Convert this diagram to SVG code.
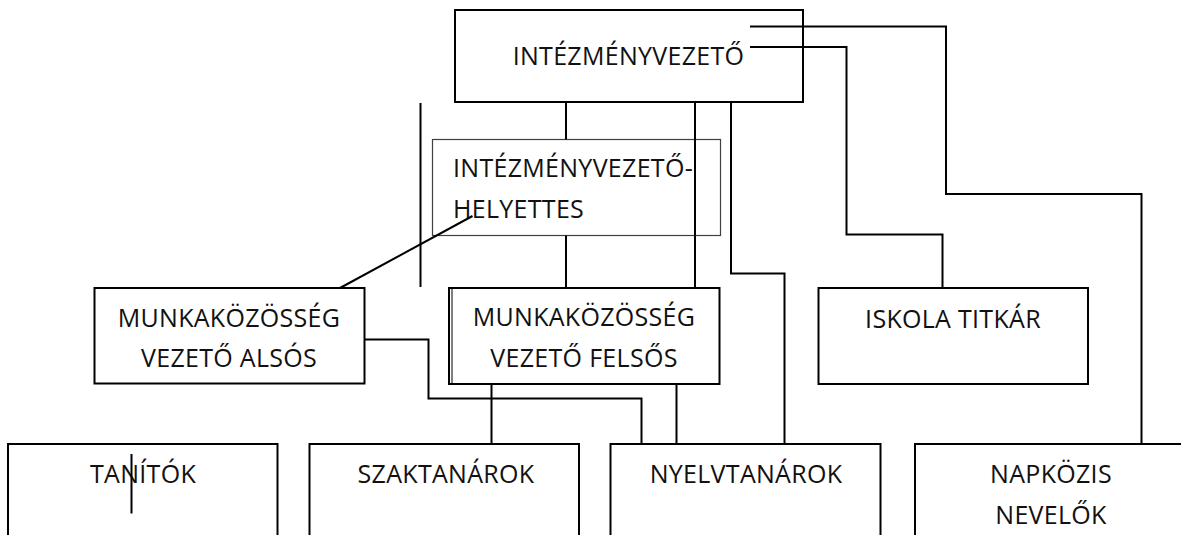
<svg xmlns="http://www.w3.org/2000/svg" width="1181" height="535" viewBox="0 0 1181 535">
  <style>
    .box { fill: #ffffff; stroke: #000000; stroke-width: 2; }
    .thin { fill: #ffffff; stroke: #404040; stroke-width: 1.2; }
    .wire { fill: none; stroke: #000000; stroke-width: 2; stroke-linejoin: miter; }
    .lbl { font-family: "Open Sans", "Noto Sans", sans-serif; font-size: 25px; letter-spacing: 0.3px; fill: #111111; }
    .mid { text-anchor: middle; }
  </style>
  <rect width="1181" height="535" fill="#ffffff"/>

  <!-- nodes -->
  <g id="intezmenyvezeto">
    <rect class="box" x="455" y="10" width="348" height="92"/>
    <text class="lbl mid" x="628.5" y="65">INTÉZMÉNYVEZETŐ</text>
  </g>
  <g id="helyettes">
    <rect class="thin" x="432.5" y="139.5" width="288" height="96"/>
    <text class="lbl" x="453" y="177">INTÉZMÉNYVEZETŐ-</text>
    <text class="lbl" x="453" y="218">HELYETTES</text>
  </g>
  <g id="mk-also">
    <rect class="box" x="94.5" y="288" width="270" height="95.5"/>
    <text class="lbl mid" x="229" y="326.5">MUNKAKÖZÖSSÉG</text>
    <text class="lbl mid" x="229" y="367">VEZETŐ ALSÓS</text>
  </g>
  <g id="mk-felso">
    <rect class="box" x="449" y="288" width="270.5" height="96"/>
    <line x1="452" y1="288" x2="452" y2="384" stroke="#000" stroke-width="1"/>
    <text class="lbl mid" x="584" y="326">MUNKAKÖZÖSSÉG</text>
    <text class="lbl mid" x="584" y="367">VEZETŐ FELSŐS</text>
  </g>
  <g id="titkar">
    <rect class="box" x="818.5" y="288" width="269.5" height="96"/>
    <text class="lbl mid" x="953" y="328">ISKOLA TITKÁR</text>
  </g>
  <g id="tanitok">
    <rect class="box" x="8" y="444" width="269.5" height="100"/>
    <text class="lbl mid" x="143" y="483">TANÍTÓK</text>
  </g>
  <g id="szaktanarok">
    <rect class="box" x="309.5" y="444" width="269.5" height="100"/>
    <text class="lbl mid" x="446" y="483">SZAKTANÁROK</text>
  </g>
  <g id="nyelvtanarok">
    <rect class="box" x="610.5" y="444" width="270" height="100"/>
    <text class="lbl mid" x="746" y="483">NYELVTANÁROK</text>
  </g>
  <g id="napkozis">
    <rect class="box" x="915" y="444" width="272" height="100"/>
    <text class="lbl mid" x="1051" y="483">NAPKÖZIS</text>
    <text class="lbl mid" x="1051" y="524">NEVELŐK</text>
  </g>

  <!-- connectors -->
  <g id="connectors" class="wire">
    <line x1="566" y1="102" x2="566" y2="139.5"/>
    <line x1="695" y1="102" x2="695" y2="288"/>
    <polyline points="731,102 731,273.5 784.5,273.5 784.5,444"/>
    <polyline points="750,26.5 946,26.5 946,194 1141.5,194 1141.5,444"/>
    <polyline points="750,47 846.5,47 846.5,234.5 942.5,234.5 942.5,288"/>
    <line x1="420.5" y1="103" x2="420.5" y2="287"/>
    <line x1="472.5" y1="216" x2="340" y2="288"/>
    <line x1="566" y1="235.5" x2="566" y2="288"/>
    <polyline points="364.5,339.5 428.5,339.5 428.5,398.5 641.5,398.5 641.5,444"/>
    <line x1="491.5" y1="384" x2="491.5" y2="444"/>
    <line x1="676.5" y1="384" x2="676.5" y2="444"/>
    <line x1="131.5" y1="454" x2="131.5" y2="513.5"/>
  </g>
</svg>
